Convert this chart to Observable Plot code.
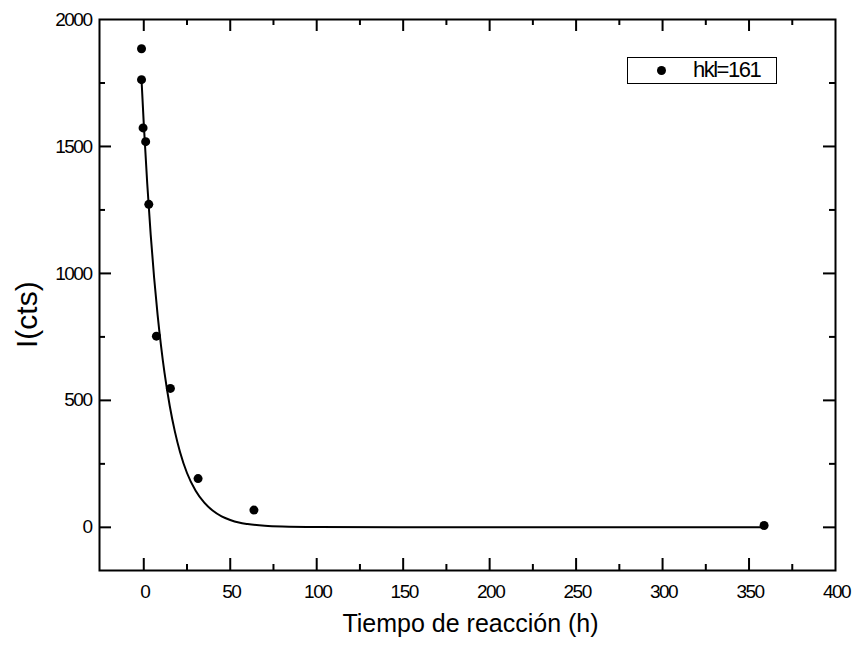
<!DOCTYPE html>
<html><head><meta charset="utf-8">
<script src="https://cdn.jsdelivr.net/npm/d3@7"></script>
<script src="https://cdn.jsdelivr.net/npm/@observablehq/plot@0.6"></script>
<style>
body{margin:0;background:#fff;}
#wrap{position:relative;width:853px;height:646px;}
#wrap svg{font-family:"Liberation Sans",Arial,sans-serif;}
#legend{position:absolute;left:627px;top:57px;width:148px;height:25px;border:1px solid #000;font-family:"Liberation Sans",Arial,sans-serif;font-size:22px;letter-spacing:-1.5px;color:#000;}
#legend .dot{position:absolute;left:29px;top:8px;width:9px;height:9px;border-radius:50%;background:#000;}
#legend .lab{position:absolute;left:65px;top:-1px;line-height:26px;}
</style></head>
<body>
<div id="wrap"></div>
<script>
// measured points
const timeH = [-1.3, -1.3, -0.4, 1.1, 2.9, 7.3, 15.4, 31.4, 63.7, 358.7];
const intensity = [1885, 1763, 1573, 1519, 1272, 753, 547, 192, 68, 7];
// fitted curve
const fitX = [-1.3, 0, 2, 4, 6, 8, 10, 12, 15, 18, 21, 25, 30, 35, 40, 45, 50, 55, 60, 70, 80, 100, 150, 200, 300, 360];
const fitY = [1763, 1589, 1354, 1153, 982, 837, 714, 608, 479, 377, 296, 214, 144, 97, 65, 43, 29, 19, 13, 6, 3, 1, 0, 0, 0, 0];
// axis ticks
const xMajor = [0, 50, 100, 150, 200, 250, 300, 350, 400];
const xMinor = [25, 75, 125, 175, 225, 275, 325, 375];
const yMajor = [0, 500, 1000, 1500, 2000];
const yMinor = [250, 750, 1250, 1750];
const legendLabel = "hkl=161";
const xTitle = "Tiempo de reacción (h)";
const yTitle = "I(cts)";

const points = timeH.map((t, i) => ({t, v: intensity[i]}));
const fit = fitX.map((t, i) => ({t, v: fitY[i]}));

const W = 853, H = 646, mL = 99, mR = 18, mT = 19, mB = 76;
const innerH = H - mT - mB;
const innerW = W - mL - mR;
const big = 12, small = 6;

const chart = Plot.plot({
  width: W, height: H,
  marginLeft: mL, marginRight: mR, marginTop: mT, marginBottom: mB,
  x: {domain: [-25.6, 400], axis: null},
  y: {domain: [-170, 2000], axis: null},
  style: {background: "#fff", color: "#000"},
  marks: [
    // tick labels
    Plot.text(xMajor, {x: d => d, frameAnchor: "bottom", dy: 27, dx: 1, text: d => String(d), fontSize: 19, fill: "#000"}),
    Plot.text(yMajor, {y: d => d, frameAnchor: "left", dx: -8, textAnchor: "end", text: d => String(d), fontSize: 19, fill: "#000"}),
    // bottom / top ticks
    Plot.ruleX(xMajor.filter(d => d < 400), {x: d => d, insetTop: innerH - big, strokeWidth: 2}),
    Plot.ruleX(xMinor, {x: d => d, insetTop: innerH - small, strokeWidth: 2}),
    Plot.ruleX(xMajor.filter(d => d < 400), {x: d => d, insetBottom: innerH - big, strokeWidth: 2}),
    Plot.ruleX(xMinor, {x: d => d, insetBottom: innerH - small, strokeWidth: 2}),
    // left / right ticks
    Plot.ruleY(yMajor.filter(d => d < 2000), {y: d => d, insetRight: innerW - big, strokeWidth: 2}),
    Plot.ruleY(yMinor, {y: d => d, insetRight: innerW - small, strokeWidth: 2}),
    Plot.ruleY(yMajor.filter(d => d < 2000), {y: d => d, insetLeft: innerW - big, strokeWidth: 2}),
    Plot.ruleY(yMinor, {y: d => d, insetLeft: innerW - small, strokeWidth: 2}),
    Plot.frame({strokeWidth: 2}),
    Plot.line(fit, {x: "t", y: "v", curve: "monotone-x", stroke: "#000", strokeWidth: 2}),
    Plot.dot(points, {x: "t", y: "v", r: 4.5, fill: "#000", stroke: null}),
    Plot.text([xTitle], {frameAnchor: "bottom", dy: 61, dx: 3, fontSize: 25, text: d => d, fill: "#000"}),
    Plot.text([yTitle], {frameAnchor: "left", dx: -72, dy: 53, rotate: -90, fontSize: 30, text: d => d, fill: "#000"})
  ]
});
// condensed look of the numeric tick labels
chart.querySelectorAll("text").forEach(t => {
  if (/^\d+$/.test(t.textContent)) t.setAttribute("letter-spacing", "-1.5px");
});
const wrap = document.getElementById("wrap");
wrap.appendChild(chart);
const lg = document.createElement("div");
lg.id = "legend";
lg.innerHTML = '<span class="dot"></span><span class="lab"></span>';
lg.querySelector(".lab").textContent = legendLabel;
wrap.appendChild(lg);
</script>
</body></html>
